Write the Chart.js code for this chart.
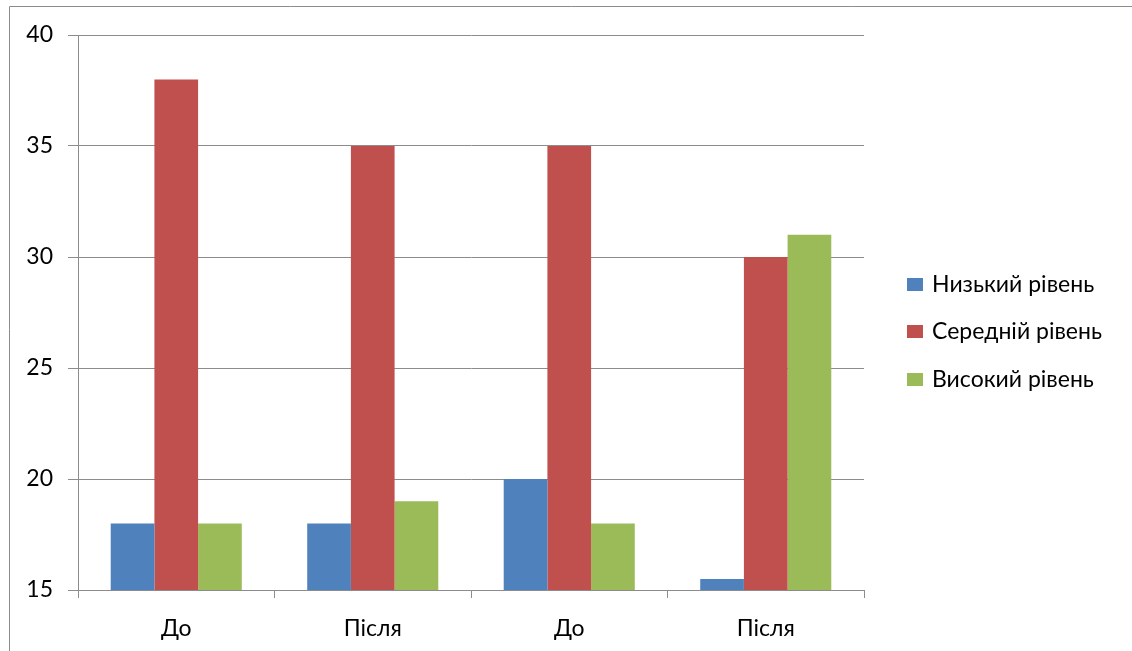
<!DOCTYPE html>
<html lang="uk">
<head>
    <meta charset="UTF-8">
    <title>Рівні</title>
    <script src="https://cdn.jsdelivr.net/npm/chart.js"></script>
    <style>
        body {
            margin: 0;
            padding: 0;
            background: white;
        }
        .wrap {
            width: 1132px;
            height: 651px;
        }
    </style>
</head>
<body>
    <div class="wrap">
        <canvas id="chart"></canvas>
    </div>

    <script>
        const categories = ["До", "Після", "До", "Після"];
        const seriesNames = ["Низький рівень", "Середній рівень", "Високий рівень"];
        const lowValues = [18, 18, 20, 15.5];
        const midValues = [38, 35, 35, 30];
        const highValues = [18, 19, 18, 31];
        const colors = ["#4F81BD", "#C0504D", "#9BBB59"];

        const fontFamily = "Lato, 'Open Sans', sans-serif";

        // outer frame + legend drawn on the side
        const framePlugin = {
            id: "frame",
            afterDraw(chart) {
                const ctx = chart.ctx;
                ctx.save();
                ctx.strokeStyle = "#8c8c8c";
                ctx.lineWidth = 1;
                ctx.beginPath();
                ctx.moveTo(9.5, 660);
                ctx.lineTo(9.5, 6.5);
                ctx.lineTo(1140, 6.5);
                ctx.stroke();

                ctx.font = "23px " + fontFamily;
                ctx.textBaseline = "middle";
                ctx.fillStyle = "#000";
                const rows = [284, 331, 379];
                chart.data.datasets.forEach((ds, i) => {
                    ctx.fillStyle = ds.backgroundColor;
                    ctx.fillRect(907, rows[i] - 6, 16, 13);
                    ctx.fillStyle = "#000";
                    ctx.fillText(ds.label, 932, rows[i] + 1);
                });
                ctx.restore();
            }
        };

        new Chart(document.getElementById("chart"), {
            type: "bar",
            data: {
                labels: categories,
                datasets: [
                    { label: seriesNames[0], data: lowValues, backgroundColor: colors[0] },
                    { label: seriesNames[1], data: midValues, backgroundColor: colors[1] },
                    { label: seriesNames[2], data: highValues, backgroundColor: colors[2] }
                ]
            },
            options: {
                responsive: true,
                maintainAspectRatio: false,
                animation: false,
                datasets: {
                    bar: { categoryPercentage: 0.667, barPercentage: 1.0 }
                },
                layout: {
                    padding: { top: 35, right: 268, left: 0, bottom: 0 }
                },
                plugins: {
                    legend: { display: false },
                    tooltip: { enabled: false }
                },
                scales: {
                    x: {
                        grid: {
                            offset: true,
                            drawOnChartArea: false,
                            tickLength: 8,
                            color: "#8c8c8c"
                        },
                        border: { color: "#8c8c8c" },
                        ticks: {
                            color: "#000",
                            padding: 17,
                            font: { size: 23, family: fontFamily }
                        },
                        afterFit(scale) { scale.height = 61; }
                    },
                    y: {
                        min: 15,
                        max: 40,
                        ticks: {
                            stepSize: 5,
                            color: "#000",
                            padding: 15,
                            font: { size: 23, family: fontFamily }
                        },
                        grid: {
                            color: "#8c8c8c",
                            tickLength: 10
                        },
                        border: { color: "#8c8c8c" },
                        afterFit(scale) { scale.width = 78; }
                    }
                }
            },
            plugins: [framePlugin]
        });
    </script>
</body>
</html>
